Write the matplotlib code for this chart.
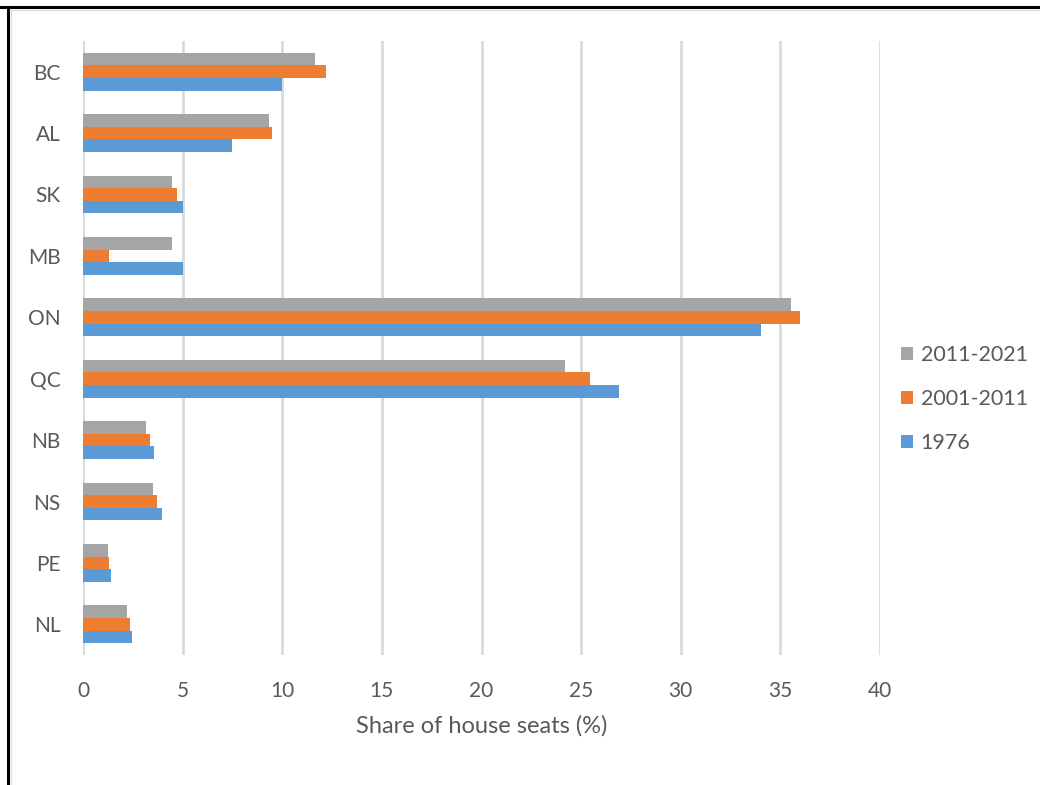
import matplotlib
matplotlib.use("Agg")
import matplotlib.pyplot as plt
from matplotlib.lines import Line2D
import numpy as np

provinces = ["NL", "PE", "NS", "NB", "QC", "ON", "MB", "SK", "AL", "BC"]
s1976 = [2.47, 1.39, 3.95, 3.58, 26.92, 34.05, 5.0, 5.0, 7.5, 10.0]
s2001 = [2.34, 1.32, 3.70, 3.38, 25.43, 35.97, 1.32, 4.74, 9.50, 12.19]
s2011 = [2.22, 1.25, 3.50, 3.18, 24.21, 35.52, 4.47, 4.47, 9.36, 11.62]
series_labels = ["1976", "2001-2011", "2011-2021"]
xticks = [0, 5, 10, 15, 20, 25, 30, 35, 40]

c_blue = "#5B9BD5"
c_orange = "#ED7D31"
c_gray = "#A5A5A5"
txt = "#595959"

plt.rcParams['font.family'] = ['Lato', 'DejaVu Sans']

fig = plt.figure(figsize=(10.4, 7.85), dpi=100)
ax = fig.add_axes([83/1040, 1-655/785, (880-83)/1040, (655-41)/785])

y = np.arange(len(provinces))
h = 0.205
ax.barh(y - h, s1976, height=h, color=c_blue, label=series_labels[0], zorder=3)
ax.barh(y, s2001, height=h, color=c_orange, label=series_labels[1], zorder=3)
ax.barh(y + h, s2011, height=h, color=c_gray, label=series_labels[2], zorder=3)

ax.set_xlim(0, 40)
ax.set_ylim(-0.5, len(provinces) - 0.5)
ax.set_xticks(xticks)
ax.set_xticklabels([str(t) for t in xticks])
ax.set_yticks(y)
ax.set_yticklabels(provinces)
ax.tick_params(axis='both', length=0, labelsize=15, colors=txt)
ax.tick_params(axis='x', pad=19)
ax.tick_params(axis='y', pad=16)
ax.grid(axis='x', color="#D9D9D9", linewidth=2, zorder=0)
for s in ax.spines.values():
    s.set_visible(False)
ax.set_xlabel("Share of house seats (%)", fontsize=17, color=txt, labelpad=10)

handles, labels = ax.get_legend_handles_labels()
leg = fig.legend(handles[::-1], labels[::-1], loc='center left',
                 bbox_to_anchor=(901/1040, 1-399/785), frameon=False,
                 borderpad=0, borderaxespad=0,
                 fontsize=15.5, handlelength=0.55, handleheight=0.55,
                 handletextpad=0.36, labelspacing=1.12)
for t in leg.get_texts():
    t.set_color(txt)

# outer frame lines
fig.add_artist(Line2D([0, 1], [1-7/785, 1-7/785], color='black', linewidth=2.2, transform=fig.transFigure))
fig.add_artist(Line2D([8/1040, 8/1040], [0, 1-7/785], color='black', linewidth=2.2, transform=fig.transFigure))
fig.add_artist(Line2D([10/1040, 1], [1-9.5/785, 1-9.5/785], color='#E0E0E0', linewidth=1, transform=fig.transFigure))
fig.add_artist(Line2D([10.5/1040, 10.5/1040], [0, 1-9.5/785], color='#E0E0E0', linewidth=1, transform=fig.transFigure))

fig.savefig("out.png", dpi=100)
